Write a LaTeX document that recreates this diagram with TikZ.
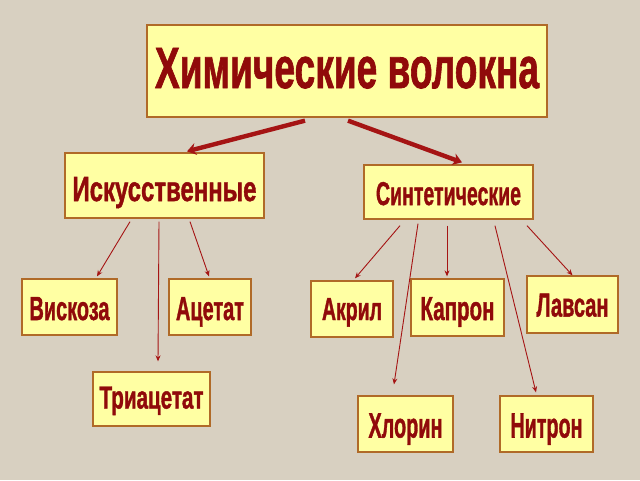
\documentclass[tikz,border=0pt]{standalone}
\usepackage{fontspec}
\usetikzlibrary{arrows.meta}
\newfontfamily\cf[FakeBold=1.5]{Liberation Sans}
\definecolor{bgc}{HTML}{D8D0C1}
\definecolor{boxfill}{HTML}{FFFFA3}
\definecolor{boxline}{HTML}{B06A28}
\definecolor{txt}{HTML}{900A0A}
\definecolor{arr}{HTML}{A51414}
% \boxtext{width}{cap height}{downward offset}{text}
\newcommand{\boxtext}[4]{\raisebox{\dimexpr -#2/2 - #3\relax}[0pt][0pt]{\resizebox{#1}{#2}{\cf\bfseries #4}}}
\tikzset{
  bx/.style={draw=boxline, fill=boxfill, line width=1.3pt, inner sep=0pt,
    text=txt},
  thick arrow/.style={draw=arr, line width=4.4pt, -{Stealth[length=9pt,width=12pt]}},
  thin arrow/.style={draw=arr, line width=0.9pt, -{Stealth[length=6pt,width=5pt]}},
}
\begin{document}
\begin{tikzpicture}[x=1pt,y=-1pt]
\fill[bgc] (0,0) rectangle (640,480);
\useasboundingbox (0,0) rectangle (640,480);
\node[bx, minimum width=400pt, minimum height=92pt] (title) at (347,71) {\boxtext{384pt}{40pt}{-3pt}{Химические волокна}};
\node[bx, minimum width=199pt, minimum height=65pt] (isk) at (164.5,185.5) {\boxtext{184pt}{24pt}{3.5pt}{Искусственные}};
\node[bx, minimum width=169pt, minimum height=54pt] (syn) at (448.5,192) {\boxtext{145pt}{23pt}{1.5pt}{Синтетические}};
\node[bx, minimum width=95pt, minimum height=56pt] (visk) at (69.5,307) {\boxtext{80pt}{23pt}{1.5pt}{Вискоза}};
\node[bx, minimum width=82pt, minimum height=56pt] (acet) at (210,307) {\boxtext{68pt}{23pt}{1.5pt}{Ацетат}};
\node[bx, minimum width=117pt, minimum height=54pt] (tri) at (151.5,399) {\boxtext{104pt}{22pt}{-1.5pt}{Триацетат}};
\node[bx, minimum width=82pt, minimum height=56pt] (akr) at (352,309) {\boxtext{60pt}{22pt}{0pt}{Акрил}};
\node[bx, minimum width=93pt, minimum height=57pt] (kap) at (457.5,307.5) {\boxtext{74pt}{23pt}{1pt}{Капрон}};
\node[bx, minimum width=91pt, minimum height=57pt] (lav) at (572.5,304.5) {\boxtext{72pt}{23pt}{0.5pt}{Лавсан}};
\node[bx, minimum width=95pt, minimum height=56pt] (khl) at (405.5,424) {\boxtext{74pt}{24pt}{1.5pt}{Хлорин}};
\node[bx, minimum width=93pt, minimum height=56pt] (nit) at (546.5,424) {\boxtext{72pt}{24pt}{1.5pt}{Нитрон}};
% thick arrows
\draw[thick arrow] ([xshift=-42pt,yshift=-3pt]title.south) -- ([xshift=22.5pt,yshift=1pt]isk.north);
\draw[thick arrow] ([xshift=1pt,yshift=-3pt]title.south) -- ([xshift=13.5pt,yshift=2pt]syn.north);
% thin arrows
\draw[thin arrow] ([xshift=-34.5pt,yshift=-3pt]isk.south) -- ([xshift=27.5pt,yshift=2pt]visk.north);
\draw[thin arrow] ([xshift=-5.5pt,yshift=-3pt]isk.south) -- ([xshift=6.5pt,yshift=10pt]tri.north);
\draw[thin arrow] ([xshift=25.5pt,yshift=-3pt]isk.south) -- ([xshift=-1pt,yshift=2pt]acet.north);
\draw[thin arrow] ([xshift=-48.5pt,yshift=-6pt]syn.south) -- ([xshift=3pt,yshift=2pt]akr.north);
\draw[thin arrow] ([xshift=-30.5pt,yshift=-4pt]syn.south) -- ([xshift=-11.5pt,yshift=11pt]khl.north);
\draw[thin arrow] ([xshift=-1.5pt,yshift=-6pt]syn.south) -- ([xshift=-10.5pt,yshift=2pt]kap.north);
\draw[thin arrow] ([xshift=46.5pt,yshift=-6pt]syn.south) -- ([xshift=-10.5pt,yshift=3pt]nit.north);
\draw[thin arrow] ([xshift=78.5pt,yshift=-6pt]syn.south) -- ([xshift=0pt,yshift=0pt]lav.north);
\end{tikzpicture}
\end{document}
